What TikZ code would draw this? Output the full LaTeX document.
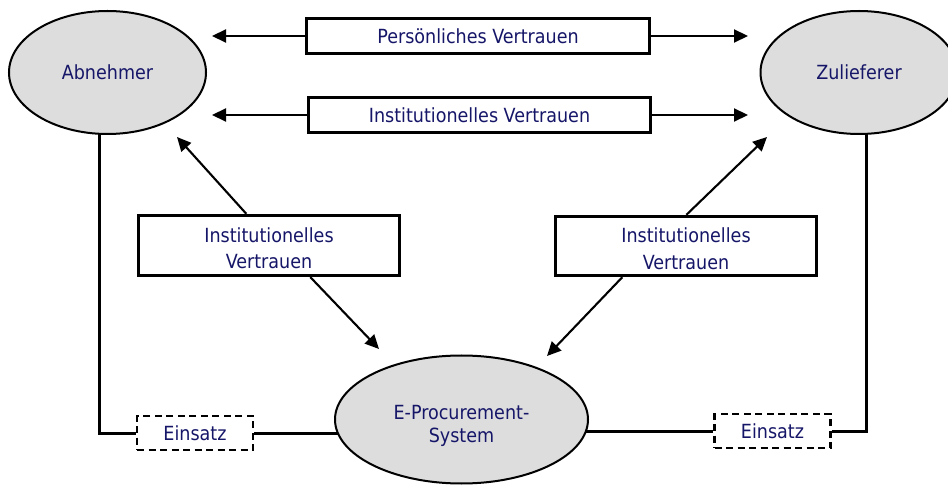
\documentclass[tikz,border=0pt]{standalone}
\usepackage{fontspec}
\setmainfont{DejaVu Sans Condensed}
\usetikzlibrary{arrows.meta,shapes.geometric}
\pgfdeclarelayer{background}
\pgfsetlayers{background,main}
\definecolor{txtblue}{RGB}{22,22,105}
\definecolor{partyfill}{RGB}{221,221,221}
\begin{document}
\begin{tikzpicture}[x=1pt,y=-1pt,
  every node/.style={text=txtblue,font=\fontsize{19.5}{26.5}\selectfont,align=center,inner sep=0pt},
  party/.style={ellipse,draw=black,line width=2pt,fill=partyfill},
  trustbox/.style={rectangle,draw=black,line width=3.3pt,fill=white},
  usebox/.style={rectangle,draw=black,line width=2.8pt,dash pattern=on 7pt off 4.5pt,fill=white,
    minimum width=116pt,minimum height=34pt},
  trustarrow/.style={line width=2.1pt,-{Triangle[length=14pt,width=13pt]}},
  link/.style={line width=3pt}]
\useasboundingbox (0,0) rectangle (948,486);

% actors
\node[party,minimum width=197pt,minimum height=123pt] (abn) at (107.5,72.5) {Abnehmer};
\node[party,minimum width=197pt,minimum height=123pt] (zul) at (859,72.5) {Zulieferer};
\node[party,minimum width=253pt,minimum height=128pt,
  font=\fontsize{19.5}{23}\selectfont] (eps) at (461.5,419.5)
  {\rule{0pt}{27pt}E-Procurement-\\System};

% trust between the actors
\node[trustbox,minimum width=343pt,minimum height=35pt] (pv) at (478,36) {Persönliches Vertrauen};
\node[trustbox,minimum width=342pt,minimum height=35pt] (iv) at (479.5,115) {Institutionelles Vertrauen};

% trust in the system
\node[trustbox,minimum width=261pt,minimum height=60pt] (ivl) at (269,245.5) {\rule{0pt}{20pt}Institutionelles\\Vertrauen};
\node[trustbox,minimum width=261pt,minimum height=59pt] (ivr) at (686,246) {\rule{0pt}{20pt}Institutionelles\\Vertrauen};

% use of the system
\node[usebox] (einl) at (195,433) {Einsatz};
\node[usebox] (einr) at (772.5,431) {Einsatz};

% arrow tips
\coordinate (pvl) at (212,36);
\coordinate (pvr) at (748,36);
\coordinate (ivtl) at (212,115);
\coordinate (ivtr) at (748,115);
\coordinate (ivlup) at (177,137);
\coordinate (ivldn) at (379,349);
\coordinate (ivrup) at (767,137);
\coordinate (ivrdn) at (547,356);

\draw[trustarrow] (pv.west) -- (pvl);
\draw[trustarrow] (pv.east) -- (pvr);
\draw[trustarrow] (iv.west) -- (ivtl);
\draw[trustarrow] (iv.east) -- (ivtr);
\draw[trustarrow] ([xshift=109.5pt]ivl.north west) -- (ivlup);
\draw[trustarrow] ([xshift=173.5pt]ivl.south west) -- (ivldn);
\draw[trustarrow] ([xshift=132.5pt]ivr.north west) -- (ivrup);
\draw[trustarrow] ([xshift=68.5pt]ivr.south west) -- (ivrdn);

% connections through the use boxes, running under the ellipses
\begin{pgfonlayer}{background}
  \draw[link] ([xshift=-8.5pt]abn.center) |- (einl.west);
  \draw[link] (einl.east) -- (einl.east -| eps.center);
  \draw[link] (einr.west -| eps.center) -- (einr.west);
  \draw[link] (einr.east) -| ([xshift=7pt]zul.center);
\end{pgfonlayer}
\end{tikzpicture}
\end{document}
